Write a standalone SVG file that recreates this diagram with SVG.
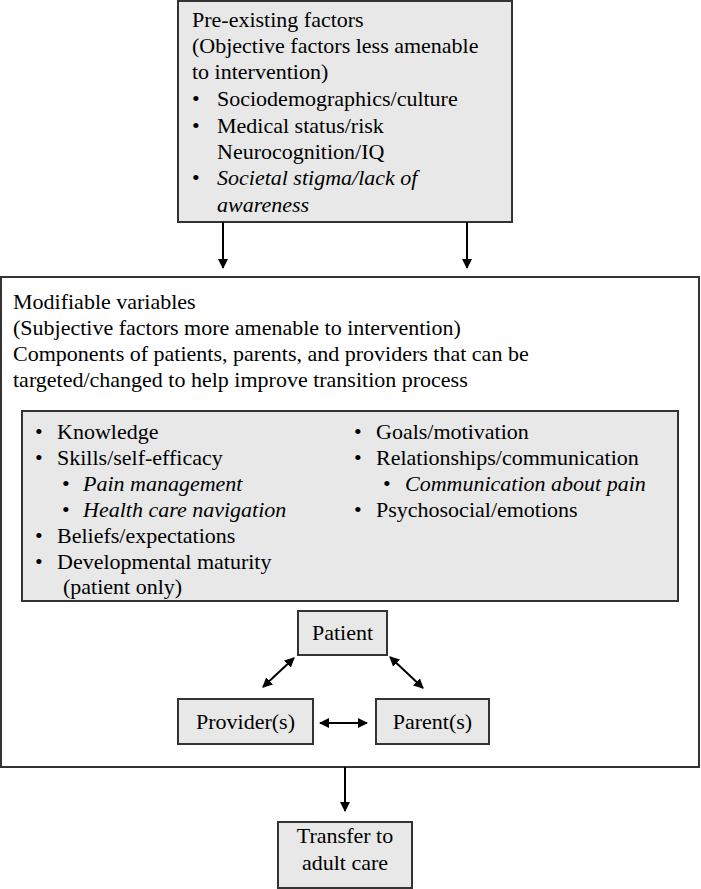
<svg xmlns="http://www.w3.org/2000/svg" width="701" height="889" viewBox="0 0 701 889">
<defs>
<marker id="ah" viewBox="0 0 10 10" refX="9" refY="5" markerWidth="5" markerHeight="5" orient="auto-start-reverse" markerUnits="strokeWidth">
<path d="M0,0 L10,5 L0,10 z" fill="#000"/>
</marker>
<style>
text{font-family:"Liberation Serif","Times New Roman",serif;font-size:22px;fill:#000}
.it{font-style:italic}
.box{fill:#e8e8e8;stroke:#333;stroke-width:2}
.wbox{fill:#fff;stroke:#333;stroke-width:2}
.c{stroke:#000;stroke-width:2;fill:none;marker-end:url(#ah)}
.cb{stroke:#000;stroke-width:2;fill:none;marker-end:url(#ah);marker-start:url(#ah)}
.m{text-anchor:middle}
</style>
</defs>
<g id="modifiable">
<rect class="wbox" x="1" y="277" width="698" height="490"/>
<text x="13" y="309">Modifiable variables</text>
<text x="13" y="335">(Subjective factors more amenable to intervention)</text>
<text x="13" y="361">Components of patients, parents, and providers that can be</text>
<text x="13" y="387">targeted/changed to help improve transition process</text>
</g>
<g id="variables">
<rect class="box" x="22" y="411" width="656" height="190"/>
<text x="35" y="439">•</text><text x="57" y="439">Knowledge</text>
<text x="35" y="465">•</text><text x="57" y="465">Skills/self-efficacy</text>
<text x="62" y="491">•</text><text class="it" x="83" y="491">Pain management</text>
<text x="62" y="517">•</text><text class="it" x="83" y="517">Health care navigation</text>
<text x="35" y="543">•</text><text x="57" y="543">Beliefs/expectations</text>
<text x="35" y="569">•</text><text x="57" y="569">Developmental maturity</text>
<text x="63" y="594">(patient only)</text>
<text x="354" y="439">•</text><text x="376" y="439">Goals/motivation</text>
<text x="354" y="465">•</text><text x="376" y="465">Relationships/communication</text>
<text x="383" y="491">•</text><text class="it" x="405" y="491">Communication about pain</text>
<text x="354" y="517">•</text><text x="376" y="517">Psychosocial/emotions</text>
</g>
<g id="preexisting">
<rect class="box" x="178" y="1" width="334" height="221"/>
<text x="192" y="27">Pre-existing factors</text>
<text x="192" y="53">(Objective factors less amenable</text>
<text x="192" y="79">to intervention)</text>
<text x="192" y="106">•</text><text x="217" y="106">Sociodemographics/culture</text>
<text x="192" y="133">•</text><text x="217" y="133">Medical status/risk</text>
<text x="217" y="159">Neurocognition/IQ</text>
<text x="192" y="185">•</text><text class="it" x="217" y="185">Societal stigma/lack of</text>
<text class="it" x="217" y="212">awareness</text>
</g>
<g id="patient">
<rect class="box" x="298" y="611" width="89" height="44"/>
<text class="m" x="342.5" y="640">Patient</text>
</g>
<g id="provider">
<rect class="box" x="178" y="699" width="135" height="45"/>
<text class="m" x="245.5" y="729">Provider(s)</text>
</g>
<g id="parent">
<rect class="box" x="376" y="699" width="113" height="45"/>
<text class="m" x="432.5" y="729">Parent(s)</text>
</g>
<g id="transfer">
<rect class="box" x="278" y="822" width="134" height="66"/>
<text class="m" x="345" y="843">Transfer to</text>
<text class="m" x="345" y="870">adult care</text>
</g>
<g id="connectors">
<path class="c" d="M223,222 V268"/>
<path class="c" d="M467,222 V268"/>
<path class="cb" d="M263,687 L294,658"/>
<path class="cb" d="M390,657 L423,688"/>
<path class="cb" d="M320,723 H367"/>
<path class="c" d="M345,767 V811"/>
</g>
</svg>
